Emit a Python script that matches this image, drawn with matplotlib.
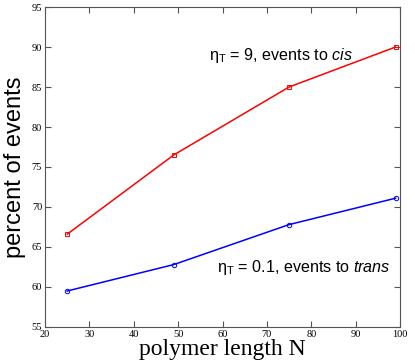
import matplotlib
matplotlib.use('Agg')
import matplotlib.pyplot as plt

plt.rcParams['mathtext.fontset'] = 'custom'
plt.rcParams['mathtext.rm'] = 'Liberation Sans'
plt.rcParams['mathtext.it'] = 'Liberation Sans:italic'

# polymer length N
n_len = [25, 49, 75, 99]
# percent of events
cis_pct = [66.6, 76.5, 85.0, 90.0]     # eta_T = 9, events to cis
trans_pct = [59.5, 62.8, 67.8, 71.1]   # eta_T = 0.1, events to trans

xticks = [20, 30, 40, 50, 60, 70, 80, 90, 100]
yticks = [55, 60, 65, 70, 75, 80, 85, 90, 95]

fig = plt.figure(figsize=(4.15, 3.63), dpi=100)
ax = fig.add_axes([0.1084, 0.0992, 0.8555, 0.8815])

ax.plot(n_len, cis_pct, color='red', lw=1.1, marker='s', ms=3.2, mfc='none', mew=0.7)
ax.plot(n_len, trans_pct, color='blue', lw=1.1, marker='o', ms=3.2, mfc='none', mew=0.7)

ax.set_xlim(20, 100)
ax.set_ylim(55, 95)
ax.set_xticks(xticks)
ax.set_yticks(yticks)
ax.tick_params(direction='in', top=True, right=True, length=4, width=0.8,
               color='#555555', labelsize=7.5, pad=2)
for lab in ax.get_xticklabels() + ax.get_yticklabels():
    lab.set_family('Liberation Serif')
for s in ax.spines.values():
    s.set_color('#555555')
    s.set_linewidth(0.8)

ax.set_xlabel('polymer length N', family='Liberation Serif', fontsize=17, labelpad=0)
ax.set_ylabel('percent of events', family='Liberation Sans', fontsize=17, labelpad=4)

ax.text(57, 89, 'η$_{\\rm T}$ = 9, events to $cis$', family='Liberation Sans',
        fontsize=11.6, va='center', ha='left')
ax.text(58.8, 62.4, 'η$_{\\rm T}$ = 0.1, events to $trans$', family='Liberation Sans',
        fontsize=11.6, va='center', ha='left')

fig.savefig('out.png', dpi=100)
